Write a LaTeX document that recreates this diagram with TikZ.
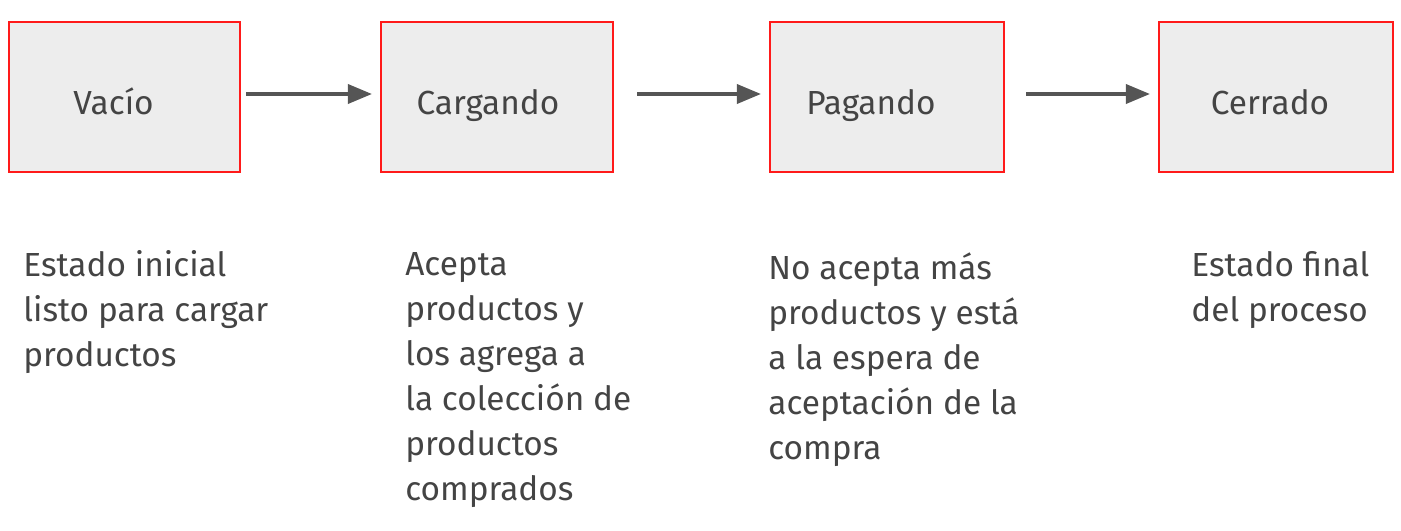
\documentclass[tikz,border=0pt]{standalone}
\usepackage{fontspec}
\setmainfont{Fira Sans}
\usepackage{tikz}
\usetikzlibrary{arrows.meta}

\definecolor{boxred}{HTML}{FF1A1A}
\definecolor{boxfill}{HTML}{EDEDED}
\definecolor{arrowgray}{HTML}{555555}
\definecolor{textgray}{HTML}{444444}

\tikzset{
  state/.style={draw=boxred, fill=boxfill, line width=1.2pt, minimum height=3cm},
  stname/.style={text height=14pt, text depth=4pt, yshift=-0.184cm,
    font=\fontsize{19}{24}\selectfont, text=textgray},
  note/.style={anchor=north west, inner sep=0pt, align=left,
    font=\fontsize{19}{25.6}\selectfont, text=textgray, execute at begin node=\strut},
  trans/.style={-{Triangle[length=0.48cm,width=0.38cm]}, arrowgray, line width=2pt,
    shorten >=0.16cm}
}

\begin{document}
\begin{tikzpicture}[x=0.02cm,y=-0.02cm]
\useasboundingbox (0,0) rectangle (1401,531);

\node [state, minimum width=4.62cm, label={[stname, xshift=-0.22cm]center:Vacío}] (vacio) at (124.5,97) {};
\node [state, minimum width=4.64cm, label={[stname, xshift=-0.18cm]center:Cargando}] (cargando) at (497,97) {};
\node [state, minimum width=4.68cm, label={[stname, xshift=-0.32cm]center:Pagando}] (pagando) at (887,97) {};
\node [state, minimum width=4.68cm, label={[stname, xshift=-0.12cm]center:Cerrado}] (cerrado) at (1276,97) {};

\draw [trans, shorten <=0.1cm] ([yshift=0.06cm]vacio.east) -- ([yshift=0.06cm]cargando.west);
\draw [trans, shorten <=0.46cm] ([yshift=0.06cm]cargando.east) -- ([yshift=0.06cm]pagando.west);
\draw [trans, shorten <=0.42cm] ([yshift=0.06cm]pagando.east) -- ([yshift=0.06cm]cerrado.west);

\node [note] (nvacio) at (23,250.5) {Estado inicial\\listo para cargar\\productos};
\node [note] (ncargando) at (405,252) {Acepta\\productos y\\los agrega a\\la colección de\\productos\\comprados};
\node [note] (npagando) at (768,252.5) {No acepta más\\productos y está\\a la espera de\\aceptación de la\\compra};
\node [note] (ncerrado) at (1191,251) {Estado final\\del proceso};
\end{tikzpicture}
\end{document}
